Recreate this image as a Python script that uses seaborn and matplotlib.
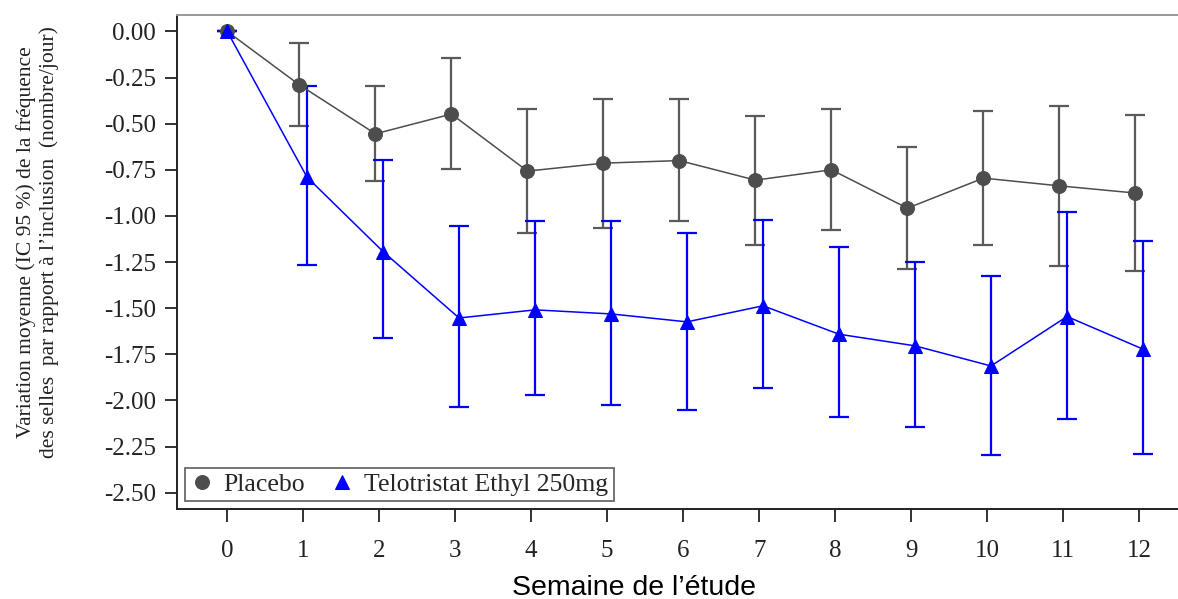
import matplotlib
matplotlib.use("Agg")
import matplotlib.pyplot as plt
import numpy as np
import pandas as pd
import seaborn as sns

weeks = np.arange(0, 13)

placebo_mean = [0.00, -0.29, -0.555, -0.448, -0.757, -0.714, -0.70, -0.806, -0.75, -0.958, -0.795, -0.837, -0.876]
placebo_upper = [0.00, -0.065, -0.298, -0.144, -0.421, -0.367, -0.367, -0.457, -0.423, -0.627, -0.434, -0.403, -0.453]
placebo_lower = [0.00, -0.51, -0.808, -0.746, -1.09, -1.063, -1.027, -1.157, -1.075, -1.285, -1.16, -1.272, -1.30]

telo_mean = [0.00, -0.79, -1.193, -1.553, -1.509, -1.531, -1.574, -1.487, -1.641, -1.704, -1.813, -1.545, -1.722]
telo_upper = [0.00, -0.294, -0.697, -1.057, -1.027, -1.027, -1.093, -1.021, -1.171, -1.247, -1.323, -0.976, -1.137]
telo_lower = [0.00, -1.267, -1.663, -2.037, -1.972, -2.026, -2.051, -1.932, -2.09, -2.142, -2.295, -2.10, -2.292]

yticks = [0.00, -0.25, -0.50, -0.75, -1.00, -1.25, -1.50, -1.75, -2.00, -2.25, -2.50]

sns.set_style("ticks")
plt.rcParams['font.family'] = ['Liberation Serif', 'DejaVu Serif']

GRAY = "#4d4d4d"
BLUE = "#0000ff"

fig = plt.figure(figsize=(11.78, 5.99), dpi=100)
ax = fig.add_axes([0.1503, 0.1503, 0.8497, 0.8247])

# small dodge so the two groups do not overlap (none at baseline)
shift = np.where(weeks == 0, 0.0, 0.05)

df = pd.DataFrame({
    "week": np.concatenate([weeks - shift, weeks + shift]),
    "mean": placebo_mean + telo_mean,
    "group": ["Placebo"] * 13 + ["Telotristat Ethyl 250mg"] * 13,
})

pl = df[df.group == "Placebo"]
te = df[df.group == "Telotristat Ethyl 250mg"]

ax.errorbar(pl["week"], placebo_mean,
            yerr=[np.array(placebo_mean) - np.array(placebo_lower),
                  np.array(placebo_upper) - np.array(placebo_mean)],
            fmt='none', ecolor="#5a5a5a", elinewidth=1.6, capsize=7, capthick=1.6, zorder=2)
ax.errorbar(te["week"], telo_mean,
            yerr=[np.array(telo_mean) - np.array(telo_lower),
                  np.array(telo_upper) - np.array(telo_mean)],
            fmt='none', ecolor=BLUE, elinewidth=1.6, capsize=7, capthick=1.6, zorder=2)

sns.lineplot(data=pl, x="week", y="mean", color=GRAY, linewidth=1.1,
             marker='o', markersize=10, markeredgecolor=GRAY, ax=ax, zorder=3,
             label="Placebo")
sns.lineplot(data=te, x="week", y="mean", color=BLUE, linewidth=1.1,
             marker='^', markersize=10, markeredgecolor=BLUE, ax=ax, zorder=4,
             label="Telotristat Ethyl 250mg")

ax.set_xlim(-0.66, 12.51)
ax.set_ylim(-2.588, 0.089)
ax.set_xticks(weeks)
ax.set_yticks(yticks)
ax.set_yticklabels([f"{v:.2f}" for v in yticks])
ax.tick_params(axis='both', labelsize=18, length=9, width=1.3, color="#222222",
               labelcolor="#222222")
ax.tick_params(axis='y', pad=6)
ax.tick_params(axis='x', pad=13)

for side in ["left", "bottom"]:
    ax.spines[side].set_linewidth(1.4)
    ax.spines[side].set_color("#222222")
ax.spines["top"].set_visible(True)
ax.spines["top"].set_color("#999999")
ax.spines["top"].set_linewidth(1.4)
ax.spines["right"].set_visible(False)

ax.set_xlabel("Semaine de l’étude", fontsize=20.5, family=['Liberation Sans', 'DejaVu Sans'],
              color="black")
ax.xaxis.set_label_coords(0.4565, -0.134)
ax.set_ylabel("Variation moyenne (IC 95 %) de la fréquence\ndes selles  par rapport à l’inclusion  (nombre/jour)",
              fontsize=15.5, color="#222222", linespacing=1.2)
ax.yaxis.set_label_coords(-0.118, 0.54)

leg = ax.legend(loc="lower left", bbox_to_anchor=(0.008, 0.016), ncol=2, fontsize=18.5,
                frameon=True, fancybox=False, edgecolor="#444444", handlelength=0.9,
                handletextpad=0.4, columnspacing=1.0, borderpad=0.2, borderaxespad=0)
leg.get_frame().set_linewidth(1.3)
for h in leg.legend_handles:
    h.set_linestyle('none')

fig.savefig("out.png", dpi=100)
